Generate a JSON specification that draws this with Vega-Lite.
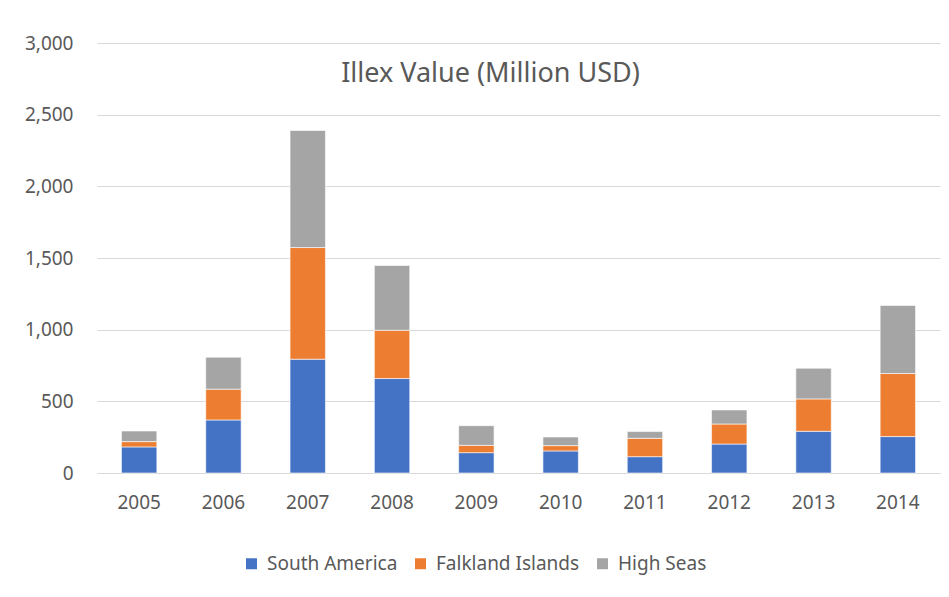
{
  "$schema": "https://vega.github.io/schema/vega-lite/v6.json",
  "width": 843,
  "height": 430,
  "autosize": {"type": "none"},
  "padding": {"left": 97, "top": 43, "right": 9, "bottom": 124},
  "background": "white",
  "title": {
    "text": "Illex Value (Million USD)",
    "fontSize": 27,
    "font": "Noto Sans",
    "fontWeight": "normal",
    "color": "#595959",
    "anchor": "middle",
    "baseline": "bottom",
    "offset": 0,
    "dy": 81,
    "dx": -28
  },
  "data": {
    "values": [
      {"year": "2005", "region": "South America", "value": 182},
      {"year": "2005", "region": "Falkland Islands", "value": 37},
      {"year": "2005", "region": "High Seas", "value": 74},
      {"year": "2006", "region": "South America", "value": 370},
      {"year": "2006", "region": "Falkland Islands", "value": 215},
      {"year": "2006", "region": "High Seas", "value": 223},
      {"year": "2007", "region": "South America", "value": 794},
      {"year": "2007", "region": "Falkland Islands", "value": 779},
      {"year": "2007", "region": "High Seas", "value": 817},
      {"year": "2008", "region": "South America", "value": 659},
      {"year": "2008", "region": "Falkland Islands", "value": 337},
      {"year": "2008", "region": "High Seas", "value": 452},
      {"year": "2009", "region": "South America", "value": 142},
      {"year": "2009", "region": "Falkland Islands", "value": 51},
      {"year": "2009", "region": "High Seas", "value": 137},
      {"year": "2010", "region": "South America", "value": 154},
      {"year": "2010", "region": "Falkland Islands", "value": 37},
      {"year": "2010", "region": "High Seas", "value": 60},
      {"year": "2011", "region": "South America", "value": 114},
      {"year": "2011", "region": "Falkland Islands", "value": 128},
      {"year": "2011", "region": "High Seas", "value": 47},
      {"year": "2012", "region": "South America", "value": 202},
      {"year": "2012", "region": "Falkland Islands", "value": 140},
      {"year": "2012", "region": "High Seas", "value": 98},
      {"year": "2013", "region": "South America", "value": 291},
      {"year": "2013", "region": "Falkland Islands", "value": 226},
      {"year": "2013", "region": "High Seas", "value": 214},
      {"year": "2014", "region": "South America", "value": 254},
      {"year": "2014", "region": "Falkland Islands", "value": 440},
      {"year": "2014", "region": "High Seas", "value": 475}
    ]
  },
  "transform": [
    {"calculate": "indexof(['South America','Falkland Islands','High Seas'], datum.region)", "as": "o"}
  ],
  "mark": {"type": "bar", "stroke": "white", "strokeWidth": 0.6},
  "encoding": {
    "x": {
      "field": "year",
      "type": "ordinal",
      "scale": {"paddingInner": 0.58, "paddingOuter": 0.29},
      "axis": {
        "title": null,
        "labelAngle": 0,
        "labelFontSize": 19,
        "labelColor": "#595959",
        "labelPadding": 20,
        "domainColor": "#D9D9D9",
        "domainWidth": 1,
        "ticks": false
      }
    },
    "y": {
      "field": "value",
      "type": "quantitative",
      "stack": "zero",
      "scale": {"domain": [0, 3000], "nice": false},
      "axis": {
        "title": null,
        "values": [0, 500, 1000, 1500, 2000, 2500, 3000],
        "format": ",d",
        "grid": true,
        "gridColor": "#D9D9D9",
        "gridWidth": 1,
        "domain": false,
        "ticks": false,
        "labelPadding": 24,
        "labelFontSize": 19,
        "labelColor": "#595959"
      }
    },
    "color": {
      "field": "region",
      "type": "nominal",
      "scale": {
        "domain": ["South America", "Falkland Islands", "High Seas"],
        "range": ["#4472C4", "#ED7D31", "#A5A5A5"]
      },
      "legend": {
        "title": null,
        "orient": "none",
        "direction": "horizontal",
        "legendX": 145,
        "legendY": 511,
        "symbolType": "square",
        "symbolSize": 121,
        "symbolStrokeWidth": 0,
        "labelFontSize": 19,
        "labelColor": "#595959",
        "labelOffset": 6,
        "columnPadding": 13
      }
    },
    "order": {"field": "o", "type": "quantitative"}
  },
  "config": {
    "view": {"stroke": null},
    "font": "Noto Sans"
  }
}
